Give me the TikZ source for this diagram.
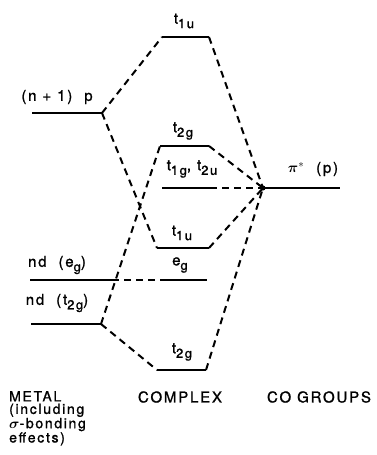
\documentclass[tikz,border=0pt]{standalone}
\usepackage{fontspec}
\usepackage{bm}
\setmainfont[LetterSpace=12,FakeBold=1.2]{TeX Gyre Heros}
\newcommand\sbs[1]{\raisebox{-4.5pt}{\fontsize{13}{13}\selectfont #1}}
\begin{document}
\begin{tikzpicture}[x=1pt,y=-1pt,
  lvl/.style={line width=2.4pt},
  cn/.style={line width=2pt, dash pattern=on 7pt off 5pt},
  lab/.style={font=\fontsize{15}{15}\selectfont, inner sep=0pt}]
\useasboundingbox (0,0) rectangle (377,455);
% level end points
\coordinate (pL) at (32,113);  \coordinate (pR) at (102,113);
\coordinate (aL) at (162,37);  \coordinate (aR) at (209,37);
\coordinate (bL) at (160,146); \coordinate (bR) at (209,146);
\coordinate (cL) at (162,188); \coordinate (cR) at (210,188);
\coordinate (X) at (263,188);  \coordinate (piR) at (340,188);
\coordinate (dL) at (157,248); \coordinate (dR) at (209,248);
\coordinate (egL) at (30,280); \coordinate (egR) at (112,280);
\coordinate (eL) at (160,280); \coordinate (eR) at (207,280);
\coordinate (tL) at (31,324);  \coordinate (tR) at (101,324);
\coordinate (fL) at (157,370); \coordinate (fR) at (206,370);
% levels
\draw[lvl] (pL) -- (pR);
\draw[lvl] (aL) -- (aR);
\draw[lvl] (bL) -- (bR);
\draw[lvl] (cL) -- (cR);
\draw[lvl] (X) -- (piR);
\draw[lvl] (dL) -- (dR);
\draw[lvl] (egL) -- (egR);
\draw[lvl] (eL) -- (eR);
\draw[lvl] (tL) -- (tR);
\draw[lvl] (fL) -- (fR);
% connectors
\draw[cn] (pR) -- (aL);
\draw[cn] (aR) -- (X);
\draw[cn] (pR) -- (dL);
\draw[cn] (tR) -- (bL);
\draw[cn] (bR) -- (X);
\draw[cn] (cR) -- (X);
\draw[cn] (dR) -- (X);
\draw[cn] (fR) -- (X);
\draw[cn] (tR) -- (fL);
\draw[cn] (egR) -- (eL);
\fill (X) circle (2.5pt);
% labels
\node[lab] (la) at (184,21) {t\sbs{1u}};
\node[lab] (lp) at (57,97) {(n + 1)\ \ p};
\node[lab] (lb) at (183,131) {t\sbs{2g}};
\node[lab] (lc) at (192,169) {t\sbs{1g},\ t\sbs{2u}};
\node[lab] (lpi) at (313,169) {$\bm{\pi}^{*}$\ \ (p)};
\node[lab] (ld) at (182,233) {t\sbs{1u}};
\node[lab] (leg) at (57,265) {nd\ \ (e\sbs{g})};
\node[lab] (le) at (180,265) {e\sbs{g}};
\node[lab] (lt) at (57,303) {nd\ \ (t\sbs{2g})};
\node[lab] (lf) at (182,352) {t\sbs{2g}};
\node[lab, anchor=north west, align=left, font=\fontsize{14}{12.5}\selectfont] (lm) at (9,391) {METAL\\(including\\$\bm{\sigma}$-bonding\\effects)};
\node[lab] (lcx) at (180,397) {COMPLEX};
\node[lab] (lco) at (319,397) {CO GROUPS};
\end{tikzpicture}
\end{document}
